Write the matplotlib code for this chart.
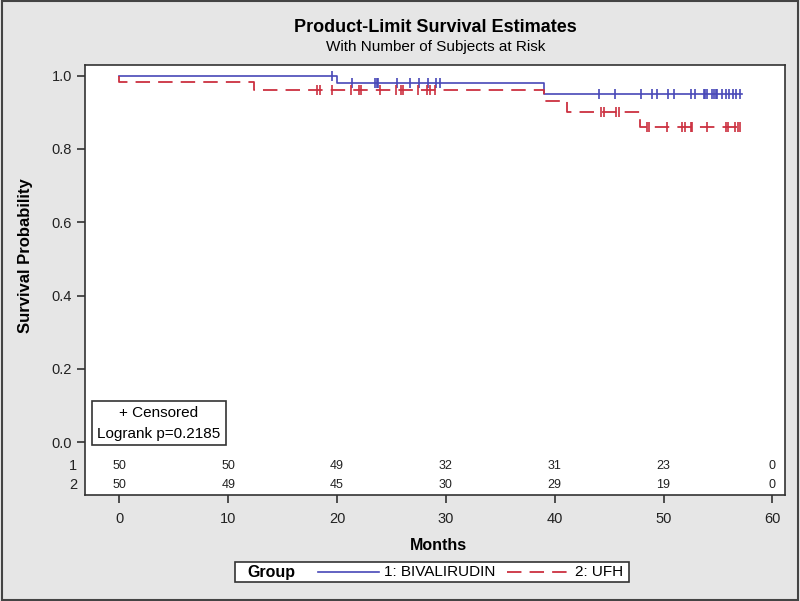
import numpy as np
import matplotlib
matplotlib.use("Agg")
import matplotlib.pyplot as plt
from matplotlib.lines import Line2D
from matplotlib.patches import Rectangle

plt.rcParams['font.family'] = ['Liberation Sans', 'DejaVu Sans']

# group 1: BIVALIRUDIN (event times / survival after event)
biv_t = [0.0, 20.0, 39.0]
biv_s = [1.0, 0.98, 0.951]
biv_end = 57.2
biv_cens = [19.5, 21.4, 23.5, 23.65, 23.8, 25.5, 26.7, 27.5, 28.4, 29.1, 29.5,
            44.1, 45.5, 47.9, 48.9, 49.4, 50.4, 51.0, 52.5, 52.9, 53.7, 53.85,
            54.0, 54.5, 54.65, 54.8, 54.95, 55.4, 55.7, 56.0, 56.4, 56.7, 57.0]

# group 2: UFH
ufh_t = [0.0, 0.0, 12.4, 39.0, 41.1, 47.8]
ufh_s = [1.0, 0.983, 0.962, 0.930, 0.900, 0.861]
ufh_end = 57.4
ufh_cens = [18.2, 18.4, 19.5, 21.3, 22.0, 22.2, 23.9, 25.4, 25.9, 26.1, 27.4,
            28.3, 28.5, 29.0, 44.3, 44.5, 45.6, 45.9, 48.5, 48.7, 50.3, 51.7,
            52.0, 52.5, 52.6, 54.0, 55.7, 55.9, 56.6, 56.8, 57.0]

risk_times = [0, 10, 20, 30, 40, 50, 60]
risk_biv = [50, 50, 49, 32, 31, 23, 0]
risk_ufh = [50, 49, 45, 30, 29, 19, 0]

blue = '#4848b8'
red = '#cc3040'


def surv_at(times, surv, x):
    idx = np.searchsorted(times, x, side='right') - 1
    return np.array(surv)[idx]


fig = plt.figure(figsize=(8, 6.01), dpi=100, facecolor='#e6e6e6')
fig.patches.append(Rectangle((0.002, 0.002), 0.996, 0.996, transform=fig.transFigure,
                             fill=False, edgecolor='#444444', lw=1.5))
ax = fig.add_axes([0.1066, 0.1764, 0.8746, 0.7155])
ax.set_facecolor('white')

ls_red = (0, (8, 4.5))
ax.step(biv_t + [biv_end], biv_s + [biv_s[-1]], where='post', color=blue, lw=1.2)
ax.step(ufh_t + [ufh_end], ufh_s + [ufh_s[-1]], where='post', color=red, lw=1.3,
        linestyle=ls_red)
ax.plot(biv_cens, surv_at(biv_t, biv_s, biv_cens), linestyle='none', marker='|',
        color=blue, ms=7, mew=1.2)
ax.plot(ufh_cens, surv_at(ufh_t, ufh_s, ufh_cens), linestyle='none', marker='|',
        color=red, ms=7, mew=1.2)

ax.set_xlim(-3.14, 61.16)
ax.set_ylim(-0.144, 1.029)
ax.set_xticks(risk_times)
ax.set_yticks([0.0, 0.2, 0.4, 0.6, 0.8, 1.0])
ax.set_yticklabels(['0.0', '0.2', '0.4', '0.6', '0.8', '1.0'])
ax.tick_params(direction='out', length=6, width=1.2, colors='#333333',
               labelsize=10.5, labelcolor='#222222')
ax.tick_params(axis='x', pad=6)
for sp in ax.spines.values():
    sp.set_color('#333333')
    sp.set_linewidth(1.2)

# number at risk rows
for x, n1, n2 in zip(risk_times, risk_biv, risk_ufh):
    ax.text(x, -0.066, str(n1), ha='center', va='center', fontsize=9, color='#222222')
    ax.text(x, -0.118, str(n2), ha='center', va='center', fontsize=9, color='#222222')
ax.text(-0.012, -0.066, '1', transform=ax.get_yaxis_transform(), ha='right',
        va='center', fontsize=10.5, color='#222222')
ax.text(-0.012, -0.118, '2', transform=ax.get_yaxis_transform(), ha='right',
        va='center', fontsize=10.5, color='#222222')

# censored / logrank box
ax.add_patch(Rectangle((0.0091, 0.116), 0.192, 0.1026, transform=ax.transAxes,
                       fc='white', ec='#333333', lw=1.2, zorder=3))
ax.text(0.105, 0.19, '+ Censored', transform=ax.transAxes, ha='center',
        va='center', fontsize=11, zorder=4)
ax.text(0.105, 0.141, 'Logrank p=0.2185', transform=ax.transAxes, ha='center',
        va='center', fontsize=11, zorder=4)

ax.set_xlabel('Months', fontsize=11.5, fontweight='bold')
ax.xaxis.set_label_coords(0.505, -0.1)
ax.set_ylabel('Survival Probability', fontsize=12, fontweight='bold')
ax.yaxis.set_label_coords(-0.075, 0.557)

fig.text(0.544, 1 - 27 / 601, 'Product-Limit Survival Estimates', ha='center',
         va='center', fontsize=13, fontweight='bold')
fig.text(0.544, 1 - 47.5 / 601, 'With Number of Subjects at Risk', ha='center',
         va='center', fontsize=11)

# group legend
fy = 1 - 572 / 601
fig.patches.append(Rectangle((235 / 800, 1 - 582 / 601), 394 / 800, 20 / 601,
                             transform=fig.transFigure, fc='white', ec='#333333', lw=1.2))
fig.text(247 / 800, fy, 'Group', ha='left', va='center', fontsize=11.5, fontweight='bold')
fig.lines.append(Line2D([318 / 800, 379 / 800], [fy, fy], transform=fig.transFigure,
                        color=blue, lw=1.2))
fig.text(384 / 800, fy, '1: BIVALIRUDIN', ha='left', va='center', fontsize=11)
fig.lines.append(Line2D([507 / 800, 569 / 800], [fy, fy], transform=fig.transFigure,
                        color=red, lw=1.3, linestyle=ls_red))
fig.text(575 / 800, fy, '2: UFH', ha='left', va='center', fontsize=11)

fig.savefig('out.png', dpi=100, facecolor=fig.get_facecolor())
